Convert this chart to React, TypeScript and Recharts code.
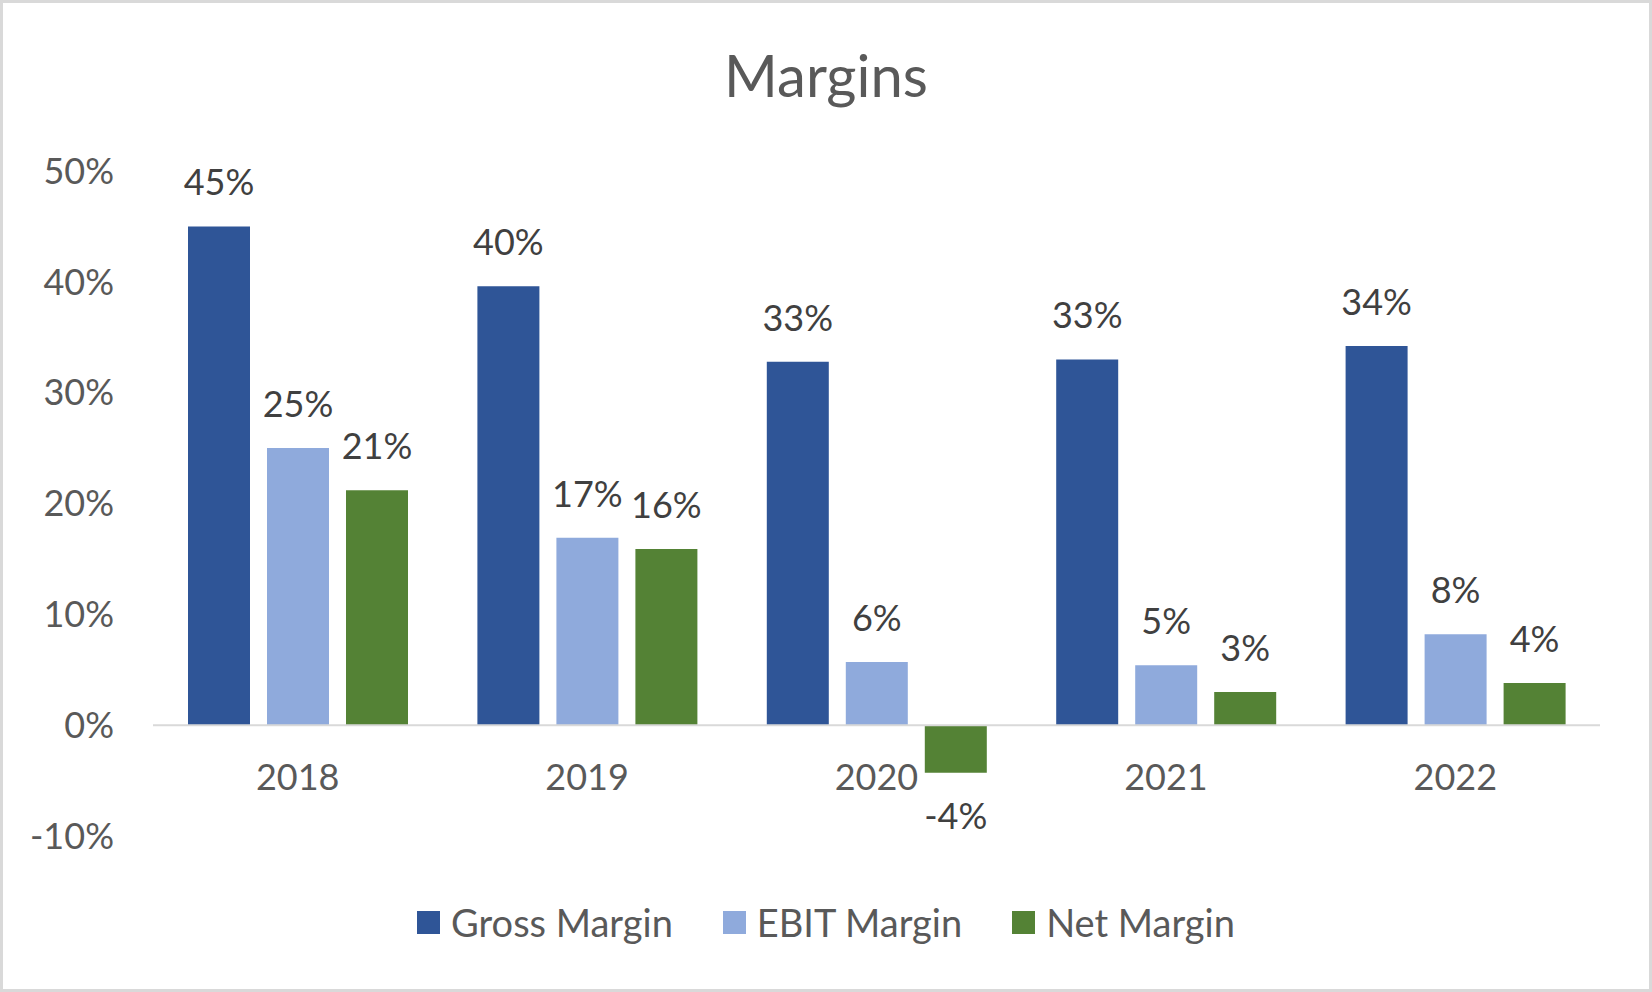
import React from 'react';
import { BarChart, Bar, XAxis, YAxis, ReferenceLine, LabelList, Legend } from 'recharts';

const years = ['2018', '2019', '2020', '2021', '2022'];
const grossMargin = [0.45, 0.396, 0.328, 0.33, 0.342];
const ebitMargin = [0.25, 0.169, 0.057, 0.054, 0.082];
const netMargin = [0.212, 0.159, -0.043, 0.03, 0.038];
const yTicks = [-0.1, 0, 0.1, 0.2, 0.3, 0.4, 0.5];
const seriesNames = ['Gross Margin', 'EBIT Margin', 'Net Margin'];
const seriesKeys = ['gross', 'ebit', 'net'];
const seriesColors = ['#2F5597', '#8FAADC', '#548235'];
const chartTitle = 'Margins';

const data = years.map((year, i) => ({
  year,
  gross: grossMargin[i],
  ebit: ebitMargin[i],
  net: netMargin[i],
}));

const FONT = 'Lato, "Open Sans", sans-serif';
const W = 1652;
const H = 992;

const fmt = (v: any) => `${Math.round(Number(v) * 100)}%`;

const XTick = (props: any) => {
  const { x, y, payload } = props;
  return (
    <text
      x={x}
      y={y - 46}
      textAnchor="middle"
      fontFamily={FONT}
      fontSize={36}
      fill="#595959"
    >
      {payload.value}
    </text>
  );
};

const renderLegend = (props: any) => {
  const raw = props.payload || [];
  const payload = [...raw].sort(
    (a: any, b: any) => seriesNames.indexOf(a.value) - seriesNames.indexOf(b.value)
  );
  return (
    <div
      style={{
        display: 'flex',
        justifyContent: 'center',
        alignItems: 'center',
        height: 40,
        width: '100%',
      }}
    >
      {payload.map((entry: any, i: number) => (
        <div
          key={entry.value}
          style={{
            display: 'flex',
            alignItems: 'center',
            marginRight: i < payload.length - 1 ? 50 : 0,
          }}
        >
          <span
            style={{
              display: 'inline-block',
              width: 23,
              height: 23,
              background: entry.color,
              marginRight: 11,
            }}
          />
          <span
            style={{
              fontFamily: FONT,
              fontSize: 38,
              lineHeight: '40px',
              color: '#595959',
              whiteSpace: 'nowrap',
            }}
          >
            {entry.value}
          </span>
        </div>
      ))}
    </div>
  );
};

export default function App() {
  return (
    <div
      style={{
        position: 'absolute',
        left: 0,
        top: 0,
        width: W,
        height: H,
        background: '#ffffff',
        overflow: 'hidden',
        fontFamily: FONT,
      }}
    >
      <div
        style={{
          position: 'absolute',
          left: 0,
          top: 0,
          width: W,
          height: H,
          boxSizing: 'border-box',
          border: '3px solid #D9D9D9',
        }}
      />
      <div style={{ position: 'absolute', left: 0, top: 0 }}>
        <BarChart
          width={W}
          height={H}
          data={data}
          margin={{ top: 171, right: 52, bottom: 126, left: 0 }}
          barGap={17}
          barSize={62}
        >
          <XAxis
            dataKey="year"
            axisLine={false}
            tickLine={false}
            tickSize={0}
            tickMargin={0}
            height={30}
            interval={0}
            tick={<XTick />}
          />
          <YAxis
            type="number"
            domain={[-0.1, 0.5]}
            ticks={yTicks}
            tickFormatter={fmt}
            axisLine={false}
            tickLine={false}
            tickSize={0}
            tickMargin={39}
            width={153}
            interval={0}
            tick={{ fontFamily: FONT, fontSize: 36, fill: '#595959' }}
          />
          <ReferenceLine y={0} stroke="#D9D9D9" strokeWidth={2} />
          <Legend
            verticalAlign="middle"
            align="center"
            layout="horizontal"
            content={renderLegend}
            wrapperStyle={{ top: 902, left: 0, width: W, height: 40 }}
          />
          {seriesKeys.map((key, i) => (
            <Bar
              key={key}
              dataKey={key}
              name={seriesNames[i]}
              fill={seriesColors[i]}
              isAnimationActive={false}
            >
              <LabelList
                dataKey={key}
                position="top"
                offset={31}
                formatter={fmt}
                fontFamily={FONT}
                fontSize={36}
                fill="#404040"
              />
            </Bar>
          ))}
        </BarChart>
      </div>
      <svg
        width={W}
        height={130}
        style={{ position: 'absolute', left: 0, top: 0, pointerEvents: 'none' }}
      >
        <text
          x={W / 2}
          y={97}
          textAnchor="middle"
          fontFamily={FONT}
          fontSize={58}
          fill="#595959"
        >
          {chartTitle}
        </text>
      </svg>
    </div>
  );
}
